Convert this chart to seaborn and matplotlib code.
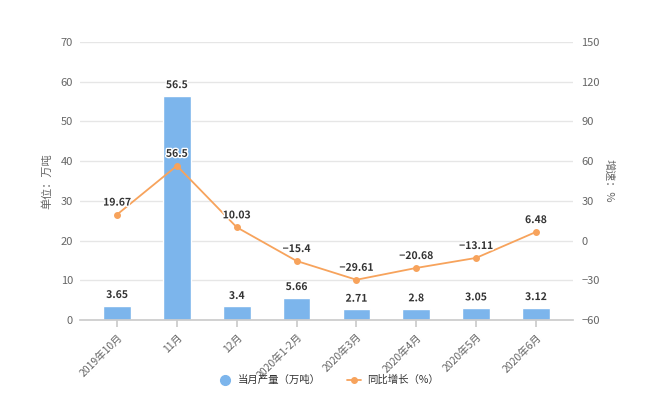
import matplotlib
matplotlib.use("Agg")
import matplotlib.pyplot as plt
import matplotlib.patheffects as pe
from matplotlib.lines import Line2D
import seaborn as sns
import pandas as pd

categories = ["2019年10月", "11月", "12月", "2020年1-2月", "2020年3月", "2020年4月", "2020年5月", "2020年6月"]
output = [3.65, 56.5, 3.4, 5.66, 2.71, 2.8, 3.05, 3.12]
growth = [19.67, 56.5, 10.03, -15.4, -29.61, -20.68, -13.11, 6.48]
left_ticks = [0, 10, 20, 30, 40, 50, 60, 70]
right_ticks = [-60, -30, 0, 30, 60, 90, 120, 150]

sns.set_theme(style="white")
plt.rcParams['font.family'] = ['Noto Sans CJK SC', 'DejaVu Sans']

bar_color = "#7cb5ec"
line_color = "#f7a35c"
txt = "#666666"

df = pd.DataFrame({"cat": categories, "output": output, "growth": growth})

fig = plt.figure(figsize=(6.5, 4.2), dpi=100)
ax = fig.add_axes([80/650, 100/420, 493/650, 278/420])
sns.barplot(data=df, x="cat", y="output", color=bar_color, width=0.46,
            saturation=1, ax=ax, zorder=2)
ax.set_xlim(-0.62, 7.62)
ax.set_ylim(0, 70)
ax.set_yticks(left_ticks)
ax.grid(axis="y", color="#e6e6e6", linewidth=1, zorder=0)
ax.set_axisbelow(True)
for s in ["top", "right", "left"]:
    ax.spines[s].set_visible(False)
ax.spines["bottom"].set_color("#cccccc")
ax.tick_params(axis="y", length=0, labelsize=8, labelcolor=txt, pad=5)
ax.tick_params(axis="x", length=5, color="#cccccc", direction="out", labelsize=7.5, labelcolor=txt, bottom=True)
plt.setp(ax.get_xticklabels(), rotation=45, ha="right", rotation_mode="anchor")
ax.set_xlabel("")
ax.set_ylabel("单位：万吨", fontsize=8, color=txt, labelpad=6)

outline = [pe.withStroke(linewidth=2, foreground="white")]
for i, v in enumerate(output):
    ax.annotate(f"{v:g}", (i, v), xytext=(0, 4), textcoords="offset points",
                ha="center", va="bottom", fontsize=7.5, fontweight="bold",
                color="#333333", path_effects=outline, zorder=5)

ax2 = ax.twinx()
sns.pointplot(data=df, x="cat", y="growth", color=line_color, ax=ax2,
              markers="o", markersize=4, linewidth=1.3, zorder=4)
ax2.set_xlim(-0.62, 7.62)
ax2.set_ylim(-60, 150)
ax2.set_yticks(right_ticks)
for s in ["top", "right", "left", "bottom"]:
    ax2.spines[s].set_visible(False)
ax2.tick_params(axis="y", length=0, labelsize=8, labelcolor=txt, pad=6)
ax2.set_ylabel("增速：%", fontsize=8, color=txt, rotation=-90, labelpad=10)
ax2.set_xlabel("")
for i, v in enumerate(growth):
    ax2.annotate(f"{v:g}".replace("-", "−"), (i, v), xytext=(0, 5), textcoords="offset points",
                 ha="center", va="bottom", fontsize=7.5, fontweight="bold",
                 color="#333333", path_effects=outline, zorder=6)

handles = [
    Line2D([], [], marker="o", linestyle="none", markersize=7, color=bar_color),
    Line2D([], [], marker="o", linestyle="-", markersize=4, color=line_color, linewidth=1.3),
]
fig.legend(handles, ["当月产量（万吨）", "同比增长（%）"], loc="center",
           bbox_to_anchor=(0.505, 1 - 380/420), ncol=2, frameon=False,
           fontsize=7.5, labelcolor="#333333", handlelength=1.4,
           handletextpad=0.5, columnspacing=2.5)

fig.savefig("out.png", dpi=100)
